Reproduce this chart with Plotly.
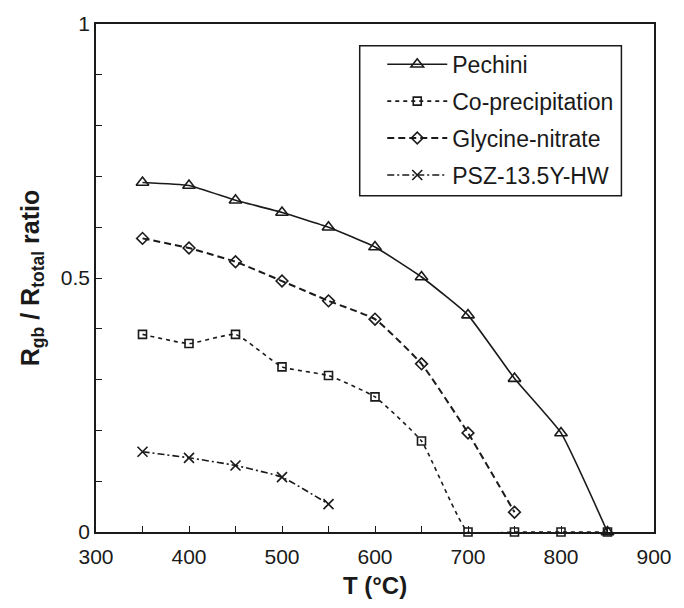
import plotly.graph_objects as go

# Temperature (°C) and Rgb/Rtotal ratio for each synthesis route
temp_pechini = [350, 400, 450, 500, 550, 600, 650, 700, 750, 800, 850]
ratio_pechini = [0.688, 0.682, 0.653, 0.629, 0.600, 0.561, 0.502, 0.427, 0.302, 0.195, 0.0]

temp_coprec = [350, 400, 450, 500, 550, 600, 650, 700, 750, 800, 850]
ratio_coprec = [0.389, 0.371, 0.389, 0.325, 0.308, 0.266, 0.179, 0.0, 0.0, 0.0, 0.0]

temp_glycine = [350, 400, 450, 500, 550, 600, 650, 700, 750]
ratio_glycine = [0.578, 0.559, 0.532, 0.494, 0.455, 0.419, 0.331, 0.195, 0.039]

temp_psz = [350, 400, 450, 500, 550]
ratio_psz = [0.158, 0.146, 0.131, 0.108, 0.055]

FONT = "Liberation Sans, Arial, sans-serif"
INK = "#1a1a1a"

series = [
    ("Pechini", temp_pechini, ratio_pechini, "solid", 1.6, "triangle-up-open", 11),
    ("Co-precipitation", temp_coprec, ratio_coprec, "4px,4px", 1.6, "square-open", 8),
    ("Glycine-nitrate", temp_glycine, ratio_glycine, "7px,4px", 2.0, "diamond-open", 9),
    ("PSZ-13.5Y-HW", temp_psz, ratio_psz, "7px,3px,2px,3px", 1.6, "x-thin-open", 10),
]

fig = go.Figure()
for i, (name, xs, ys, dash, lw, sym, size) in enumerate(series):
    fig.add_trace(go.Scatter(
        x=xs, y=ys, name=name, mode="lines+markers",
        line=dict(color=INK, width=lw, dash=dash, shape="spline", smoothing=0.4),
        marker=dict(symbol=sym, size=size, color=INK, line=dict(color=INK, width=1.6)),
        cliponaxis=False, legendgroup=f"g{i}",
    ))

# framed box behind the legend entries
fig.add_shape(
    type="rect", xref="paper", yref="paper",
    x0=0.4726, x1=0.9416, y0=0.662, y1=0.957,
    line=dict(color=INK, width=1.5), fillcolor="white", layer="above",
)

fig.update_layout(
    width=684, height=608,
    margin=dict(l=96, r=23, t=17, b=76),
    paper_bgcolor="white", plot_bgcolor="white",
    font=dict(family=FONT, color=INK),
    showlegend=True,
    legend=dict(
        x=0.513, y=0.963, xanchor="left", yanchor="top",
        bgcolor="rgba(0,0,0,0)", borderwidth=0,
        font=dict(family=FONT, size=23, color=INK),
        itemwidth=60, tracegroupgap=4, traceorder="grouped",
    ),
)

fig.update_xaxes(
    range=[300, 900], dtick=100, tick0=300,
    ticks="inside", ticklen=6, tickwidth=1.2, tickcolor=INK,
    minor=dict(dtick=50, ticks="inside", ticklen=6, tickwidth=1.2, tickcolor=INK),
    showline=True, linecolor=INK, linewidth=1.6, mirror=True,
    showgrid=False, zeroline=False,
    tickfont=dict(family=FONT, size=21, color=INK), ticklabelstandoff=5,
    title=dict(text="<b>T (°C)</b>", font=dict(family=FONT, size=24, color=INK), standoff=10),
)
fig.update_yaxes(
    range=[0, 1], tickvals=[0, 0.5, 1], ticktext=["0", "0.5", "1"],
    ticks="inside", ticklen=6, tickwidth=1.2, tickcolor=INK,
    minor=dict(dtick=0.1, ticks="inside", ticklen=6, tickwidth=1.2, tickcolor=INK),
    showline=True, linecolor=INK, linewidth=1.6, mirror=True,
    showgrid=False, zeroline=False,
    tickfont=dict(family=FONT, size=21, color=INK),
    title=dict(text="<b>R<sub>gb</sub> / R<sub>total</sub> ratio</b>",
               font=dict(family=FONT, size=25, color=INK), standoff=14),
)

fig.write_html("out.html")
